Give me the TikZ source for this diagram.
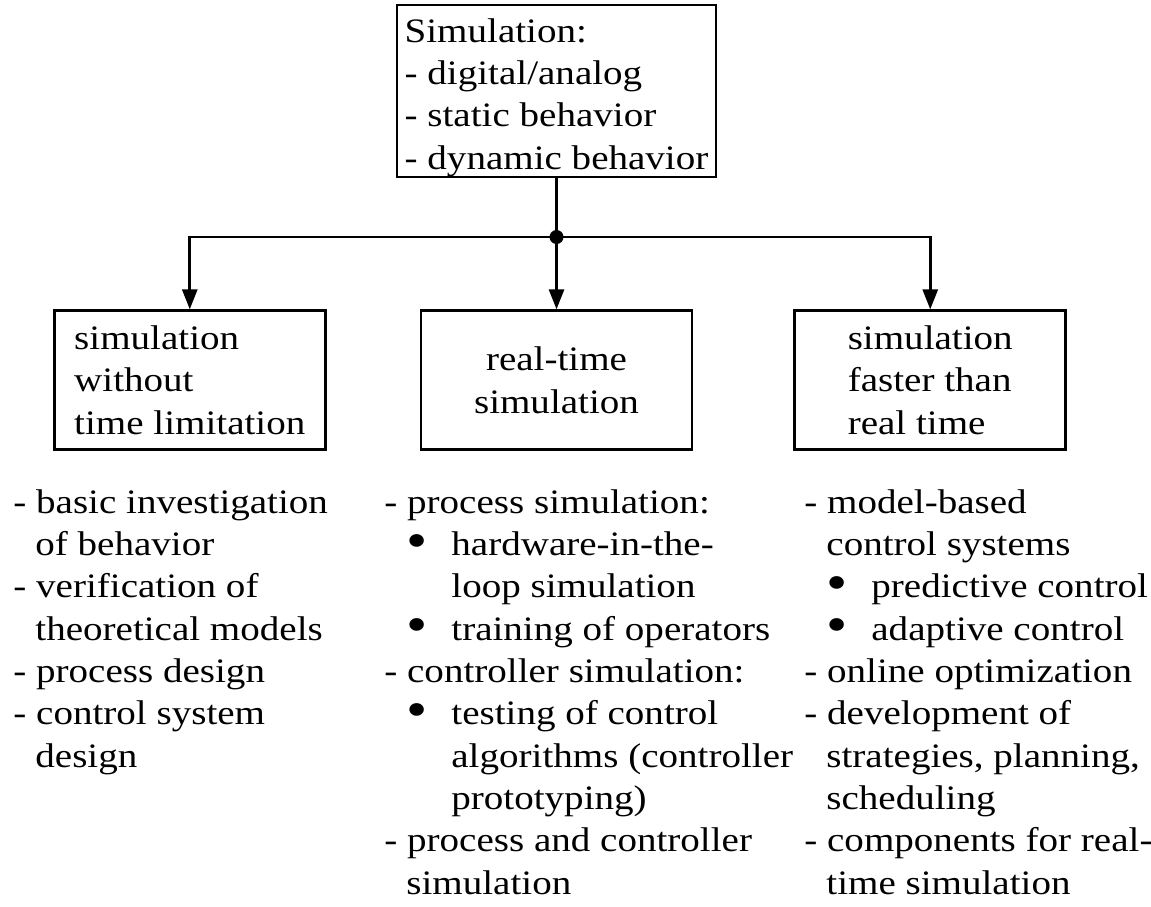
\documentclass[tikz,border=0pt]{standalone}
\usepackage{fontspec}
\setmainfont{Liberation Serif}[FakeStretch=1.14]
\usetikzlibrary{positioning}
\usetikzlibrary{arrows.meta}

\newcommand{\ind}{\hspace*{0.44cm}}
\newcommand{\indd}{\hspace*{1.34cm}}
\newcommand{\bul}{\hspace*{0.44cm}\makebox[0.9cm][l]{\smash{\raisebox{-0.08em}{\scalebox{1.55}{\textbullet}}}}}

\begin{document}
\begin{tikzpicture}[x=0.02cm,y=-0.02cm,line width=1.6pt,
	font=\fontsize{19.5}{24.1}\selectfont]

	\tikzset{box/.style={draw,align=left,shape=rectangle,inner sep=2pt,
		minimum height=2.78cm,minimum width=5.42cm}}

	\tikzset{list/.style={align=left,anchor=north west,inner sep=0pt}}

	\tikzset{link/.style={-{Triangle[length=4mm,width=3mm]}}}

	\useasboundingbox (0,0) rectangle (1151,906);

	\node (sim) [box,inner ysep=0pt,minimum width=6.38cm,minimum height=3.44cm] at (556.5,91)
		{\rule{0pt}{0.74cm}Simulation:\\- digital/analog\\- static behavior\\- dynamic behavior};

	% The three kinds of simulation, side by side.
	\node (realtime) [box,align=center,below=2.62cm of sim] {real-time\\simulation};
	\node (nolimit) [box,left=1.86cm of realtime] {simulation\\without\\time limitation};
	\node (faster) [box,right=2cm of realtime] {simulation\\faster than\\real time};

	% Branch point with its dot.
	\coordinate (junc) at (sim.south |- 0,237);
	\node (dot) [circle,fill,inner sep=0pt,minimum size=0.28cm] at (junc) {};

	\draw (sim) -- (junc);
	\draw [link] (junc) -| (nolimit.north);
	\draw [link] (junc) -- (realtime.north);
	\draw [link] (junc) -| (faster.north);

	% Applications, one list below each box.
	\node (nolimitlist) [list] at (12,488) {- basic investigation\\\ind of behavior\\
		- verification of\\\ind theoretical models\\- process design\\
		- control system\\\ind design};
	\node (realtimelist) [list] at (383,488) {- process simulation:\\
		\bul hardware-in-the-\\\indd loop simulation\\\bul training of operators\\
		- controller simulation:\\\bul testing of control\\\indd algorithms (controller\\
		\indd prototyping)\\- process and controller\\\ind simulation};
	\node (fasterlist) [list] at (803,488) {- model-based\\\ind control systems\\
		\bul predictive control\\\bul adaptive control\\- online optimization\\
		- development of\\\ind strategies, planning,\\\ind scheduling\\
		- components for real-\\\ind time simulation};
\end{tikzpicture}
\end{document}
